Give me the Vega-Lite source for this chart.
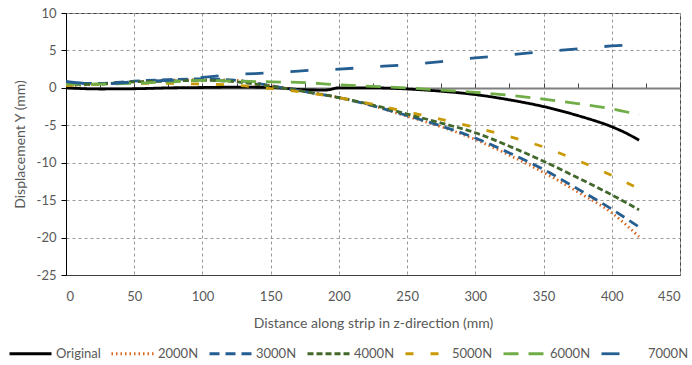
{
  "$schema": "https://vega.github.io/schema/vega-lite/v6.json",
  "width": 614,
  "height": 262,
  "autosize": "none",
  "padding": {"left": 66, "top": 13, "right": 12, "bottom": 90},
  "config": {
    "font": "Lato",
    "view": {"stroke": "#404040", "strokeWidth": 1},
    "axis": {"labelColor": "#595959", "titleColor": "#595959", "labelFontSize": 13, "titleFontSize": 14, "titleFontWeight": "normal", "labelFont": "Lato", "titleFont": "Lato"}
  },
  "data": {"values": [
    {"x": 0, "y": 0, "s": "Original"}, {"x": 25, "y": -0.15, "s": "Original"}, {"x": 50, "y": -0.12, "s": "Original"}, {"x": 75, "y": 0, "s": "Original"}, {"x": 100, "y": 0.05, "s": "Original"}, {"x": 125, "y": 0.1, "s": "Original"}, {"x": 150, "y": 0.05, "s": "Original"}, {"x": 175, "y": -0.25, "s": "Original"}, {"x": 190, "y": -0.3, "s": "Original"}, {"x": 200, "y": 0, "s": "Original"}, {"x": 225, "y": 0, "s": "Original"}, {"x": 250, "y": -0.15, "s": "Original"}, {"x": 275, "y": -0.45, "s": "Original"}, {"x": 300, "y": -0.9, "s": "Original"}, {"x": 325, "y": -1.6, "s": "Original"}, {"x": 350, "y": -2.5, "s": "Original"}, {"x": 375, "y": -3.7, "s": "Original"}, {"x": 400, "y": -5.2, "s": "Original"}, {"x": 410, "y": -6.0, "s": "Original"}, {"x": 420, "y": -7.0, "s": "Original"},

    {"x": 0, "y": 0.3, "s": "2000N"}, {"x": 25, "y": 0.5, "s": "2000N"}, {"x": 50, "y": 0.8, "s": "2000N"}, {"x": 75, "y": 1.0, "s": "2000N"}, {"x": 100, "y": 1.1, "s": "2000N"}, {"x": 125, "y": 1.0, "s": "2000N"}, {"x": 150, "y": 0.3, "s": "2000N"}, {"x": 175, "y": -0.5, "s": "2000N"}, {"x": 200, "y": -1.3, "s": "2000N"}, {"x": 225, "y": -2.4, "s": "2000N"}, {"x": 250, "y": -3.8, "s": "2000N"}, {"x": 275, "y": -5.2, "s": "2000N"}, {"x": 300, "y": -6.9, "s": "2000N"}, {"x": 325, "y": -9.0, "s": "2000N"}, {"x": 350, "y": -11.3, "s": "2000N"}, {"x": 375, "y": -13.9, "s": "2000N"}, {"x": 400, "y": -16.7, "s": "2000N"}, {"x": 420, "y": -19.9, "s": "2000N"},

    {"x": 0, "y": 0.6, "s": "3000N"}, {"x": 25, "y": 0.6, "s": "3000N"}, {"x": 50, "y": 0.9, "s": "3000N"}, {"x": 75, "y": 1.1, "s": "3000N"}, {"x": 100, "y": 1.2, "s": "3000N"}, {"x": 125, "y": 1.0, "s": "3000N"}, {"x": 150, "y": 0.3, "s": "3000N"}, {"x": 175, "y": -0.5, "s": "3000N"}, {"x": 200, "y": -1.3, "s": "3000N"}, {"x": 225, "y": -2.4, "s": "3000N"}, {"x": 250, "y": -3.7, "s": "3000N"}, {"x": 275, "y": -5.1, "s": "3000N"}, {"x": 300, "y": -6.7, "s": "3000N"}, {"x": 325, "y": -8.7, "s": "3000N"}, {"x": 350, "y": -10.9, "s": "3000N"}, {"x": 375, "y": -13.5, "s": "3000N"}, {"x": 400, "y": -16.2, "s": "3000N"}, {"x": 420, "y": -18.6, "s": "3000N"},

    {"x": 0, "y": 0.4, "s": "4000N"}, {"x": 25, "y": 0.5, "s": "4000N"}, {"x": 50, "y": 0.8, "s": "4000N"}, {"x": 75, "y": 0.9, "s": "4000N"}, {"x": 100, "y": 1.0, "s": "4000N"}, {"x": 125, "y": 0.8, "s": "4000N"}, {"x": 150, "y": 0.2, "s": "4000N"}, {"x": 175, "y": -0.5, "s": "4000N"}, {"x": 200, "y": -1.3, "s": "4000N"}, {"x": 225, "y": -2.3, "s": "4000N"}, {"x": 250, "y": -3.5, "s": "4000N"}, {"x": 275, "y": -4.7, "s": "4000N"}, {"x": 300, "y": -6.0, "s": "4000N"}, {"x": 325, "y": -7.8, "s": "4000N"}, {"x": 350, "y": -9.8, "s": "4000N"}, {"x": 375, "y": -12.0, "s": "4000N"}, {"x": 400, "y": -14.3, "s": "4000N"}, {"x": 420, "y": -16.3, "s": "4000N"},

    {"x": 0, "y": 0.3, "s": "5000N"}, {"x": 25, "y": 0.5, "s": "5000N"}, {"x": 50, "y": 0.6, "s": "5000N"}, {"x": 75, "y": 0.6, "s": "5000N"}, {"x": 100, "y": 0.5, "s": "5000N"}, {"x": 125, "y": 0.35, "s": "5000N"}, {"x": 150, "y": -0.1, "s": "5000N"}, {"x": 175, "y": -0.6, "s": "5000N"}, {"x": 200, "y": -1.3, "s": "5000N"}, {"x": 225, "y": -2.2, "s": "5000N"}, {"x": 250, "y": -3.2, "s": "5000N"}, {"x": 275, "y": -4.2, "s": "5000N"}, {"x": 300, "y": -5.3, "s": "5000N"}, {"x": 325, "y": -6.5, "s": "5000N"}, {"x": 350, "y": -7.9, "s": "5000N"}, {"x": 375, "y": -9.7, "s": "5000N"}, {"x": 400, "y": -11.7, "s": "5000N"}, {"x": 420, "y": -13.5, "s": "5000N"},

    {"x": 0, "y": 0.5, "s": "6000N"}, {"x": 25, "y": 0.5, "s": "6000N"}, {"x": 50, "y": 0.6, "s": "6000N"}, {"x": 75, "y": 0.8, "s": "6000N"}, {"x": 100, "y": 1.0, "s": "6000N"}, {"x": 125, "y": 0.9, "s": "6000N"}, {"x": 150, "y": 0.8, "s": "6000N"}, {"x": 175, "y": 0.7, "s": "6000N"}, {"x": 200, "y": 0.4, "s": "6000N"}, {"x": 225, "y": 0.2, "s": "6000N"}, {"x": 250, "y": 0.0, "s": "6000N"}, {"x": 275, "y": -0.3, "s": "6000N"}, {"x": 300, "y": -0.6, "s": "6000N"}, {"x": 325, "y": -1.0, "s": "6000N"}, {"x": 350, "y": -1.5, "s": "6000N"}, {"x": 375, "y": -2.1, "s": "6000N"}, {"x": 400, "y": -2.8, "s": "6000N"}, {"x": 420, "y": -3.6, "s": "6000N"},

    {"x": 0, "y": 0.85, "s": "7000N"}, {"x": 25, "y": 0.5, "s": "7000N"}, {"x": 50, "y": 0.8, "s": "7000N"}, {"x": 75, "y": 1.0, "s": "7000N"}, {"x": 100, "y": 1.4, "s": "7000N"}, {"x": 125, "y": 1.8, "s": "7000N"}, {"x": 150, "y": 2.0, "s": "7000N"}, {"x": 175, "y": 2.3, "s": "7000N"}, {"x": 200, "y": 2.5, "s": "7000N"}, {"x": 225, "y": 2.8, "s": "7000N"}, {"x": 250, "y": 3.1, "s": "7000N"}, {"x": 275, "y": 3.5, "s": "7000N"}, {"x": 300, "y": 4.0, "s": "7000N"}, {"x": 325, "y": 4.4, "s": "7000N"}, {"x": 350, "y": 4.85, "s": "7000N"}, {"x": 375, "y": 5.2, "s": "7000N"}, {"x": 400, "y": 5.6, "s": "7000N"}, {"x": 420, "y": 5.8, "s": "7000N"}
  ]},
  "encoding": {
    "y": {"field": "y", "type": "quantitative", "scale": {"domain": [-25, 10], "nice": false},
      "axis": {"orient": "left", "values": [-25, -20, -15, -10, -5, 0, 5, 10], "labelExpr": "datum.value + ''", "labelOverlap": false, "title": "Displacement Y (mm)", "titlePadding": 9, "domainColor": "#000000", "tickColor": "#000000", "tickSize": 5, "labelPadding": 5, "grid": true, "gridDash": [3, 3], "gridColor": "#999999", "gridWidth": 1}}
  },
  "layer": [
    {
      "mark": {"type": "line", "opacity": 0},
      "encoding": {
        "x": {"field": "x", "type": "quantitative", "scale": {"domain": [0, 450], "nice": false},
          "axis": {"orient": "top", "offset": -75, "values": [0, 25, 50, 75, 100, 125, 150, 175, 200, 225, 250, 275, 300, 325, 350, 375, 400, 425, 450], "labels": false, "grid": false, "title": null, "domainColor": "#7f7f7f", "domainWidth": 2, "tickColor": "#404040", "tickSize": 5, "zindex": 0}},
        "detail": {"field": "s"}
      }
    },
    {
      "mark": {"type": "line", "strokeWidth": 2.8, "interpolate": "monotone"},
      "encoding": {
        "x": {"field": "x", "type": "quantitative", "scale": {"domain": [0, 450], "nice": false},
          "axis": {"orient": "bottom", "values": [0, 50, 100, 150, 200, 250, 300, 350, 400, 450], "title": "Distance along strip in z-direction (mm)", "titlePadding": 13, "ticks": false, "labelPadding": 15, "labelOverlap": false, "domainColor": "#404040", "grid": true, "gridDash": [3, 3], "gridColor": "#999999", "gridWidth": 1}},
        "color": {"field": "s", "type": "nominal",
          "scale": {"domain": ["Original", "2000N", "3000N", "4000N", "5000N", "6000N", "7000N"],
                    "range": ["#000000", "#D9661F", "#255E91", "#43682B", "#C99A06", "#70AD47", "#255E91"]},
          "legend": {"orient": "none", "legendX": -58, "legendY": 318, "direction": "horizontal", "title": null, "symbolType": "stroke", "symbolSize": 1764, "symbolStrokeWidth": 2.8, "labelFontSize": 13, "labelColor": "#595959", "labelOffset": 3, "columnPadding": 4, "labelFont": "Lato"}},
        "strokeDash": {"field": "s", "type": "nominal",
          "scale": {"domain": ["Original", "2000N", "3000N", "4000N", "5000N", "6000N", "7000N"],
                    "range": [[1, 0], [1.5, 3], [10, 6], [6, 3], [8, 17], [15, 10], [18, 27]]},
          "legend": null}
      }
    }
  ]
}
